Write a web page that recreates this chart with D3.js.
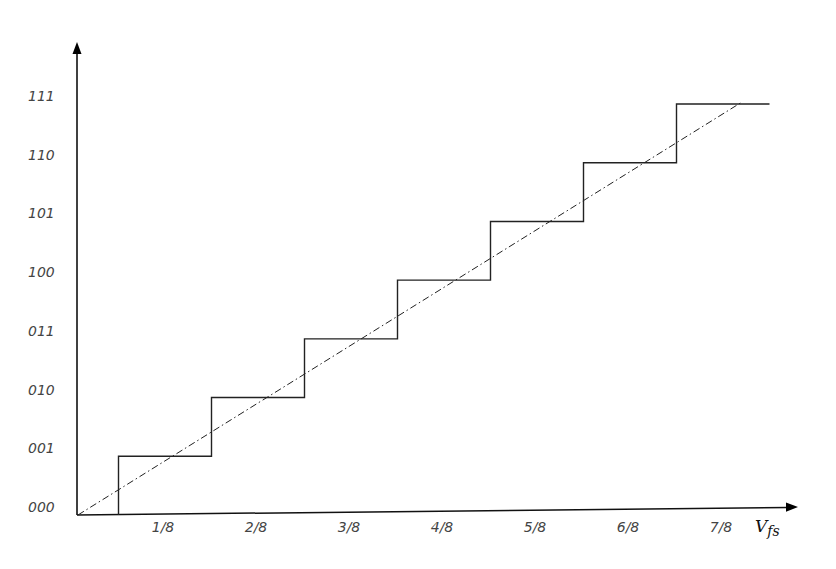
<!DOCTYPE html>
<html>
<head>
<meta charset="utf-8">
<script src="https://cdn.jsdelivr.net/npm/d3@7"></script>
<style>
  body { margin: 0; background: #fff; }
  .lbl { font-family: "DejaVu Sans", sans-serif; font-style: italic; font-size: 14px; fill: #444; }
</style>
</head>
<body>
<div id="container"></div>
<script>
// output codes and x tick labels
const codes = ['000', '001', '010', '011', '100', '101', '110', '111'];
const xTicks = ['1/8', '2/8', '3/8', '4/8', '5/8', '6/8', '7/8'];
const xTickValues = [1/8, 2/8, 3/8, 4/8, 5/8, 6/8, 7/8];
// staircase: input (fraction of Vfs) where the code steps up, and code after
const stepIn = [0, 0.5/8, 1.5/8, 2.5/8, 3.5/8, 4.5/8, 5.5/8, 6.5/8, 15/16];
const stepCode = [0, 1, 2, 3, 4, 5, 6, 7, 7];
// ideal transfer line
const idealIn = [0.008, 0.9];
const idealCode = [0, 7.03];

const width = 836, height = 569;
const svg = d3.select('#container').append('svg')
  .attr('width', width).attr('height', height);

const x = d3.scaleLinear().domain([0, 1]).range([72, 816]);
const y = d3.scaleLinear().domain([0, 7]).range([515, 104]);

// axes
const ox = 77, oy = 515;
svg.append('line').attr('x1', ox).attr('y1', oy).attr('x2', ox).attr('y2', 52)
  .attr('stroke', '#000').attr('stroke-width', 1.5);
svg.append('path').attr('d', `M${ox - 4.5},${54} L${ox},${42} L${ox + 4.5},${54} Z`).attr('fill', '#000');

svg.append('line').attr('x1', ox).attr('y1', oy).attr('x2', 788).attr('y2', 507.5)
  .attr('stroke', '#111').attr('stroke-width', 1.5);
svg.append('path').attr('d', 'M786,502.5 L798,507 L786,511.8 Z').attr('fill', '#000');

// staircase
let pts = [];
stepIn.forEach((v, i) => {
  if (i > 0) pts.push([v, stepCode[i - 1]]);
  pts.push([v, stepCode[i]]);
});
pts = pts.slice(1);
pts.unshift([stepIn[1], 0]);
const line = d3.line().x(d => x(d[0])).y(d => y(d[1]));
svg.append('path')
  .attr('d', line(pts))
  .attr('fill', 'none')
  .attr('stroke', '#222')
  .attr('stroke-width', 1.4);

// ideal line (dash-dot)
svg.append('path')
  .attr('d', line(idealIn.map((v, i) => [v, idealCode[i]])))
  .attr('fill', 'none')
  .attr('stroke', '#222')
  .attr('stroke-width', 1)
  .attr('stroke-dasharray', '7,3,1.5,3');

// y labels
svg.selectAll('.ylbl').data(codes).enter().append('text')
  .attr('class', 'lbl')
  .attr('x', 28)
  .attr('y', (d, i) => y(i) - 3)
  .text(d => d);

// x labels
svg.selectAll('.xlbl').data(xTicks).enter().append('text')
  .attr('class', 'lbl')
  .attr('text-anchor', 'middle')
  .attr('x', (d, i) => x(xTickValues[i]) - 2)
  .attr('y', 532)
  .text(d => d);

const vfs = svg.append('text')
  .attr('x', 755).attr('y', 532)
  .attr('font-family', '"DejaVu Serif", serif')
  .attr('font-style', 'italic')
  .attr('font-size', 17)
  .attr('fill', '#111');
vfs.append('tspan').text('V');
vfs.append('tspan').attr('font-size', 14).attr('dy', 4).text('fs');
</script>
</body>
</html>
